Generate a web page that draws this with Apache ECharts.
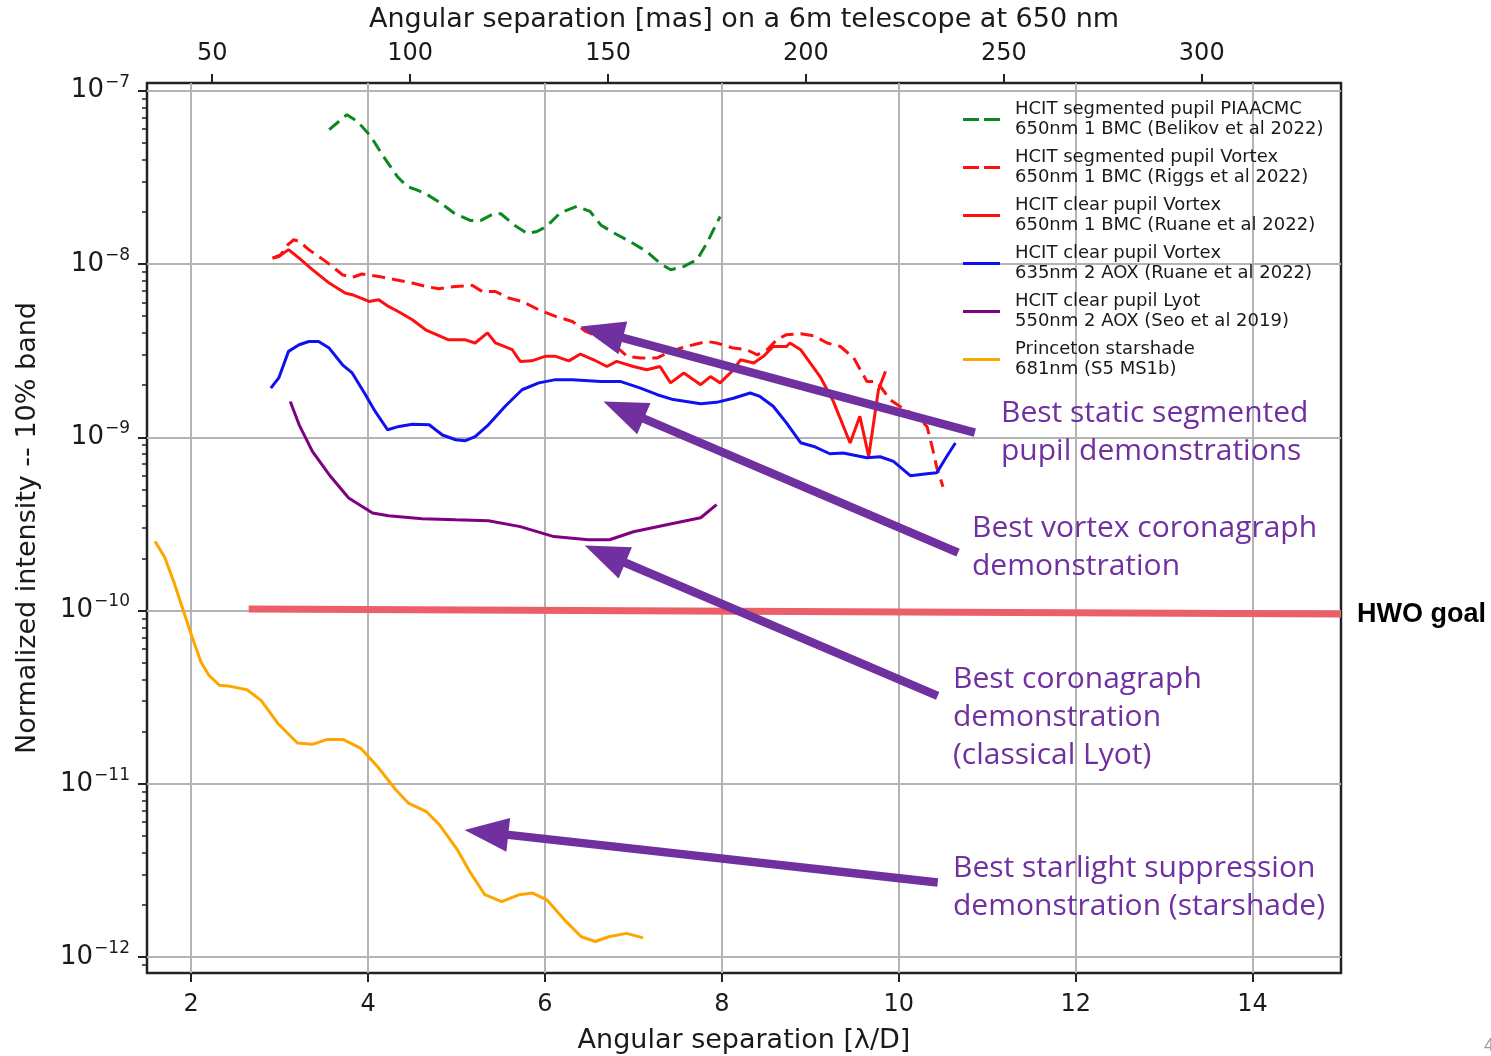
<!DOCTYPE html>
<html>
<head>
<meta charset="utf-8">
<script src="https://cdn.jsdelivr.net/npm/echarts@6/dist/echarts.min.js"></script>
<style>
  html, body { margin: 0; padding: 0; background: #ffffff; }
  #chart { width: 1491px; height: 1056px; }
</style>
</head>
<body>
<div id="chart"></div>
<script>
// Contrast curves: angular separation in λ/D versus normalized intensity.

// Separation axis and the mas conversion for a 6 m telescope at 650 nm
const MAS_PER_LD = 650e-9 / 6 * 206264806.247;
const sepRange = [1.5, 15];
const sepTicks = [2, 4, 6, 8, 10, 12, 14];
const masTicks = [50, 100, 150, 200, 250, 300];

// Intensity axis (log scale)
const intensityRange = [8.09e-13, 1.108e-7];
const decadeTicks = [1e-12, 1e-11, 1e-10, 1e-9, 1e-8, 1e-7];
const minorMantissas = [2, 3, 4, 5, 6, 7, 8, 9];

// HCIT segmented pupil PIAACMC, 650nm 1 BMC (Belikov et al 2022)
const piaacmcSep = [3.56, 3.76, 3.88, 4.03, 4.16, 4.33, 4.44, 4.55, 4.67, 4.82, 4.97, 5.16, 5.27, 5.42, 5.50, 5.65,
  5.80, 5.91, 6.02, 6.17, 6.36, 6.51, 6.63, 6.78, 6.96, 7.15, 7.30, 7.42, 7.57, 7.72, 7.83, 7.98];
const piaacmcInt = [5.96e-8, 7.27e-8, 6.65e-8, 5.45e-8, 4.27e-8, 3.20e-8, 2.80e-8, 2.68e-8, 2.51e-8, 2.25e-8, 1.97e-8,
  1.78e-8, 1.78e-8, 1.95e-8, 1.95e-8, 1.68e-8, 1.50e-8, 1.54e-8, 1.65e-8, 1.97e-8, 2.15e-8, 2.01e-8, 1.68e-8, 1.51e-8,
  1.35e-8, 1.18e-8, 1.01e-8, 9.27e-9, 9.68e-9, 1.06e-8, 1.32e-8, 1.88e-8];

// HCIT segmented pupil Vortex, 650nm 1 BMC (Riggs et al 2022)
const segVortexSep = [2.92, 3.01, 3.09, 3.16, 3.22, 3.33, 3.52, 3.71, 3.82, 3.93, 4.12, 4.31, 4.50, 4.65, 4.80, 4.99,
  5.18, 5.29, 5.44, 5.59, 5.74, 5.93, 6.12, 6.31, 6.46, 6.55, 6.78, 6.93, 7.08, 7.27, 7.38, 7.53, 7.68, 7.83, 7.94,
  8.13, 8.28, 8.40, 8.51, 8.62, 8.73, 8.89, 9.04, 9.19, 9.34, 9.49, 9.64, 9.75, 9.90, 10.07, 10.22, 10.32, 10.38,
  10.43, 10.50];
const segVortexInt = [1.08e-8, 1.13e-8, 1.29e-8, 1.38e-8, 1.35e-8, 1.21e-8, 1.035e-8, 8.67e-9, 8.36e-9, 8.75e-9,
  8.48e-9, 8.11e-9, 7.76e-9, 7.42e-9, 7.20e-9, 7.42e-9, 7.52e-9, 6.94e-9, 6.94e-9, 6.36e-9, 6.08e-9, 5.44e-9, 4.98e-9,
  4.66e-9, 4.08e-9, 3.91e-9, 3.42e-9, 2.93e-9, 2.87e-9, 2.87e-9, 3.06e-9, 3.27e-9, 3.42e-9, 3.57e-9, 3.50e-9, 3.27e-9,
  3.20e-9, 2.99e-9, 3.20e-9, 3.65e-9, 3.91e-9, 3.96e-9, 3.85e-9, 3.50e-9, 3.34e-9, 2.87e-9, 2.10e-9, 2.10e-9, 1.65e-9,
  1.44e-9, 1.31e-9, 1.15e-9, 8.70e-10, 6.67e-10, 5.18e-10];

// HCIT clear pupil Vortex, 650nm 1 BMC (Ruane et al 2022)
const clearVortex650Sep = [2.92, 2.99, 3.10, 3.22, 3.37, 3.56, 3.74, 3.82, 4.01, 4.12, 4.23, 4.35, 4.50, 4.65, 4.91,
  5.10, 5.21, 5.35, 5.44, 5.63, 5.72, 5.85, 6.00, 6.12, 6.27, 6.40, 6.55, 6.70, 6.81, 7.00, 7.15, 7.30, 7.42, 7.57,
  7.76, 7.87, 7.98, 8.13, 8.21, 8.36, 8.47, 8.58, 8.73, 8.77, 8.89, 9.11, 9.26, 9.45, 9.56, 9.66, 9.77, 9.85];
const clearVortex650Int = [1.08e-8, 1.105e-8, 1.21e-8, 1.08e-8, 9.27e-9, 7.76e-9, 6.80e-9, 6.65e-9, 6.08e-9, 6.22e-9,
  5.69e-9, 5.28e-9, 4.77e-9, 4.17e-9, 3.65e-9, 3.65e-9, 3.50e-9, 4.00e-9, 3.50e-9, 3.20e-9, 2.74e-9, 2.76e-9, 2.93e-9,
  2.93e-9, 2.76e-9, 3.02e-9, 2.80e-9, 2.56e-9, 2.74e-9, 2.56e-9, 2.45e-9, 2.56e-9, 2.06e-9, 2.35e-9, 2.01e-9, 2.24e-9,
  2.06e-9, 2.45e-9, 2.80e-9, 2.68e-9, 2.93e-9, 3.34e-9, 3.34e-9, 3.50e-9, 3.20e-9, 2.24e-9, 1.61e-9, 9.26e-10, 1.32e-9,
  7.75e-10, 1.88e-9, 2.40e-9];

// HCIT clear pupil Vortex, 635nm 2 AOX (Ruane et al 2022)
const clearVortex635Sep = [2.90, 2.99, 3.10, 3.22, 3.33, 3.44, 3.56, 3.71, 3.82, 3.97, 4.08, 4.22, 4.35, 4.50, 4.69,
  4.84, 4.99, 5.10, 5.21, 5.36, 5.55, 5.74, 5.93, 6.12, 6.31, 6.63, 6.85, 7.08, 7.27, 7.45, 7.76, 7.94, 8.13, 8.32,
  8.43, 8.58, 8.73, 8.89, 9.04, 9.22, 9.37, 9.64, 9.79, 9.94, 10.13, 10.32, 10.43, 10.54, 10.64];
const clearVortex635Int = [1.92e-9, 2.20e-9, 3.13e-9, 3.42e-9, 3.57e-9, 3.57e-9, 3.27e-9, 2.62e-9, 2.35e-9, 1.76e-9,
  1.41e-9, 1.105e-9, 1.155e-9, 1.19e-9, 1.18e-9, 1.03e-9, 9.67e-10, 9.55e-10, 1.01e-9, 1.18e-9, 1.51e-9, 1.88e-9,
  2.06e-9, 2.15e-9, 2.15e-9, 2.10e-9, 2.10e-9, 1.92e-9, 1.76e-9, 1.65e-9, 1.56e-9, 1.59e-9, 1.68e-9, 1.80e-9, 1.72e-9,
  1.51e-9, 1.21e-9, 9.30e-10, 8.85e-10, 8.03e-10, 8.11e-10, 7.62e-10, 7.72e-10, 7.25e-10, 6.00e-10, 6.16e-10,
  6.24e-10, 7.72e-10, 9.26e-10];

// HCIT clear pupil Lyot, 550nm 2 AOX (Seo et al 2019)
const lyotSep = [3.12, 3.22, 3.37, 3.56, 3.78, 4.05, 4.23, 4.61, 4.99, 5.36, 5.72, 6.10, 6.49, 6.73, 7.00, 7.43, 7.76, 7.94];
const lyotInt = [1.61e-9, 1.18e-9, 8.28e-10, 6.08e-10, 4.46e-10, 3.65e-10, 3.52e-10, 3.39e-10, 3.34e-10, 3.30e-10,
  3.05e-10, 2.67e-10, 2.56e-10, 2.56e-10, 2.85e-10, 3.17e-10, 3.43e-10, 4.08e-10];

// Princeton starshade, 681nm (S5 MS1b)
const starshadeSep = [1.59, 1.70, 1.81, 1.91, 2.01, 2.11, 2.20, 2.32, 2.44, 2.63, 2.79, 2.98, 3.20, 3.37, 3.53, 3.72,
  3.92, 4.11, 4.31, 4.46, 4.66, 4.81, 5.01, 5.16, 5.32, 5.51, 5.71, 5.86, 6.02, 6.22, 6.41, 6.57, 6.72, 6.92, 7.11];
const starshadeInt = [2.51e-10, 2.03e-10, 1.43e-10, 1.00e-10, 7.03e-11, 5.04e-11, 4.23e-11, 3.70e-11, 3.65e-11,
  3.49e-11, 3.03e-11, 2.23e-11, 1.72e-11, 1.69e-11, 1.80e-11, 1.80e-11, 1.60e-11, 1.25e-11, 9.27e-12, 7.70e-12,
  6.90e-12, 5.78e-12, 4.15e-12, 3.05e-12, 2.29e-12, 2.09e-12, 2.29e-12, 2.34e-12, 2.14e-12, 1.64e-12, 1.31e-12,
  1.23e-12, 1.31e-12, 1.37e-12, 1.29e-12];

// HWO contrast goal line
const hwoGoalSep = [2.65, 15];
const hwoGoalInt = [1.02e-10, 0.955e-10];

// Legend labels
const seriesNames = [
  'HCIT segmented pupil PIAACMC\n650nm 1 BMC (Belikov et al 2022)',
  'HCIT segmented pupil Vortex\n650nm 1 BMC (Riggs et al 2022)',
  'HCIT clear pupil Vortex\n650nm 1 BMC (Ruane et al 2022)',
  'HCIT clear pupil Vortex\n635nm 2 AOX (Ruane et al 2022)',
  'HCIT clear pupil Lyot\n550nm 2 AOX (Seo et al 2019)',
  'Princeton starshade\n681nm (S5 MS1b)'
];
const seriesDashed = [true, true, false, false, false, false];

// Callout arrows: tail and tip in (λ/D, intensity)
const arrowTails = [[10.86, 1.063e-9], [10.67, 2.16e-10], [10.44, 3.22e-11], [10.44, 2.69e-12]];
const arrowTips = [[6.40, 4.36e-9], [6.66, 1.61e-9], [6.45, 2.37e-10], [5.09, 5.41e-12]];

// Callout captions
const callouts = [
  { text: 'Best static segmented\npupil demonstrations', left: 1001, top: 394 },
  { text: 'Best vortex coronagraph\ndemonstration', left: 972, top: 509 },
  { text: 'Best coronagraph\ndemonstration\n(classical Lyot)', left: 953, top: 660 },
  { text: 'Best starlight suppression\ndemonstration (starshade)', left: 953, top: 849 }
];

const pairs = (xs, ys) => xs.map((x, i) => [x, ys[i]]);
const minorTicks = [];
decadeTicks.concat([1e-13]).forEach(d => minorMantissas.forEach(m => minorTicks.push(m * d)));

const FONT = '"DejaVu Sans", sans-serif';
const TXT = '#1a1a1a';
const PURPLE = '#7030A0';
const DASH_ICON = 'path://M0,0H16V3H0ZM21,0H37V3H21Z';

const chart = echarts.init(document.getElementById('chart'), null, { renderer: 'canvas' });

function curve(name, xs, ys, color, dashed) {
  return {
    name, type: 'line', data: pairs(xs, ys), symbol: 'none', smooth: false,
    xAxisIndex: 0, yAxisIndex: 0, clip: true,
    lineStyle: { color, width: 3, type: dashed ? [13, 7] : 'solid' },
    itemStyle: { color },
    emphasis: { disabled: true }
  };
}

const supFmt = v => {
  const e = Math.round(Math.log10(v));
  return '{b|10}{e|\u2212' + Math.abs(e) + '}';
};

chart.setOption({
  animation: false,
  backgroundColor: '#ffffff',
  grid: {
    left: 147, right: 150, top: 83, bottom: 83,
    show: true, borderColor: '#222', borderWidth: 2.5, backgroundColor: 'transparent',
    containLabel: false, outerBoundsMode: 'none'
  },
  legend: {
    data: seriesNames.map((n, i) => ({ name: n, icon: seriesDashed[i] ? DASH_ICON : 'rect' })),
    orient: 'vertical', left: 958, top: 94,
    itemWidth: 37, itemHeight: 3, itemGap: 7,
    selectedMode: false,
    textStyle: { fontFamily: FONT, fontSize: 18, lineHeight: 20.5, color: TXT, padding: [0, 0, 0, 10] }
  },
  xAxis: [
    {
      type: 'value', position: 'bottom', min: sepRange[0], max: sepRange[1],
      name: 'Angular separation [\u03bb/D]', nameLocation: 'middle', nameGap: 54,
      nameTextStyle: { fontFamily: FONT, fontSize: 27, color: TXT },
      axisLine: { show: false },
      axisTick: { show: true, inside: false, length: 9, lineStyle: { color: '#222', width: 2 }, customValues: sepTicks },
      axisLabel: { customValues: sepTicks, fontFamily: FONT, fontSize: 24, color: TXT, margin: 20 },
      splitLine: { show: true, lineStyle: { color: '#b4b4b4', width: 2 } }
    },
    {
      type: 'value', position: 'top', min: sepRange[0] * MAS_PER_LD, max: sepRange[1] * MAS_PER_LD,
      name: 'Angular separation [mas] on a 6m telescope at 650 nm', nameLocation: 'middle', nameGap: 50,
      nameTextStyle: { fontFamily: FONT, fontSize: 27, color: TXT },
      axisLine: { show: false },
      axisTick: { show: true, inside: false, length: 9, lineStyle: { color: '#222', width: 2 }, customValues: masTicks },
      axisLabel: { customValues: masTicks, fontFamily: FONT, fontSize: 24, color: TXT, margin: 17 },
      splitLine: { show: false }
    }
  ],
  yAxis: [
    {
      type: 'log', logBase: 10, min: intensityRange[0], max: intensityRange[1], position: 'left',
      name: 'Normalized intensity -- 10% band', nameLocation: 'middle', nameGap: 106, nameRotate: 90,
      nameTextStyle: { fontFamily: FONT, fontSize: 27, color: TXT },
      axisLine: { show: false },
      axisTick: { show: true, inside: false, length: 9, lineStyle: { color: '#222', width: 2 }, customValues: decadeTicks },
      axisLabel: {
        customValues: decadeTicks, formatter: supFmt, margin: 17, color: TXT,
        rich: {
          b: { fontFamily: FONT, fontSize: 26, color: TXT },
          e: { fontFamily: FONT, fontSize: 17, color: TXT, padding: [0, 0, 17, 1] }
        }
      },
      splitLine: { show: true, lineStyle: { color: '#b4b4b4', width: 2 } },
      minorTick: { show: false }, minorSplitLine: { show: false }
    },
    {
      // minor ticks of the log axis
      type: 'log', logBase: 10, min: intensityRange[0], max: intensityRange[1], position: 'left',
      axisLine: { show: false },
      axisTick: { show: true, inside: false, length: 5, lineStyle: { color: '#222', width: 1.5 }, customValues: minorTicks },
      axisLabel: { show: false },
      splitLine: { show: false }
    }
  ],
  series: [
    {
      name: 'HWO goal', type: 'line', data: pairs(hwoGoalSep, hwoGoalInt), symbol: 'none',
      xAxisIndex: 0, yAxisIndex: 0, lineStyle: { color: '#EC5F68', width: 7 }, z: 1,
      emphasis: { disabled: true }
    },
    curve(seriesNames[0], piaacmcSep, piaacmcInt, '#0a8a1e', seriesDashed[0]),
    curve(seriesNames[1], segVortexSep, segVortexInt, '#ff1010', seriesDashed[1]),
    curve(seriesNames[2], clearVortex650Sep, clearVortex650Int, '#ff1010', seriesDashed[2]),
    curve(seriesNames[3], clearVortex635Sep, clearVortex635Int, '#1010f0', seriesDashed[3]),
    curve(seriesNames[4], lyotSep, lyotInt, '#800080', seriesDashed[4]),
    curve(seriesNames[5], starshadeSep, starshadeInt, '#FFA500', seriesDashed[5])
  ]
});

// Callout arrows, placed through the axes' own scales
const toPx = p => chart.convertToPixel({ xAxisIndex: 0, yAxisIndex: 0 }, p);
const HEAD_LEN = 44, HEAD_HALF = 17;
const arrowGraphics = [];
arrowTails.forEach((tail, i) => {
  const t = toPx(tail), h = toPx(arrowTips[i]);
  const dx = t[0] - h[0], dy = t[1] - h[1];
  const len = Math.hypot(dx, dy);
  const ux = dx / len, uy = dy / len;
  const bx = h[0] + ux * HEAD_LEN, by = h[1] + uy * HEAD_LEN;
  arrowGraphics.push({
    type: 'line', z: 100,
    shape: { x1: t[0], y1: t[1], x2: bx - ux * 2, y2: by - uy * 2 },
    style: { stroke: PURPLE, lineWidth: 8.5 }
  });
  arrowGraphics.push({
    type: 'polygon', z: 100,
    shape: { points: [h, [bx - uy * HEAD_HALF, by + ux * HEAD_HALF], [bx + uy * HEAD_HALF, by - ux * HEAD_HALF]] },
    style: { fill: PURPLE }
  });
});

const textGraphics = callouts.map(c => ({
  type: 'text', left: c.left, top: c.top, z: 110,
  style: { text: c.text, fill: PURPLE, font: '30px "Open Sans", Lato, sans-serif', lineHeight: 38 }
}));

textGraphics.push({
  type: 'text', left: 1357, top: 600, z: 110,
  style: { text: 'HWO goal', fill: '#000', font: 'bold 27px "Liberation Sans", Arial, sans-serif', lineHeight: 30 }
});
textGraphics.push({
  type: 'text', left: 1484, top: 1037, z: 110,
  style: { text: '4', fill: '#9a9a9a', font: '18px "Liberation Sans", Arial, sans-serif' }
});

chart.setOption({ graphic: arrowGraphics.concat(textGraphics) });
</script>
</body>
</html>
